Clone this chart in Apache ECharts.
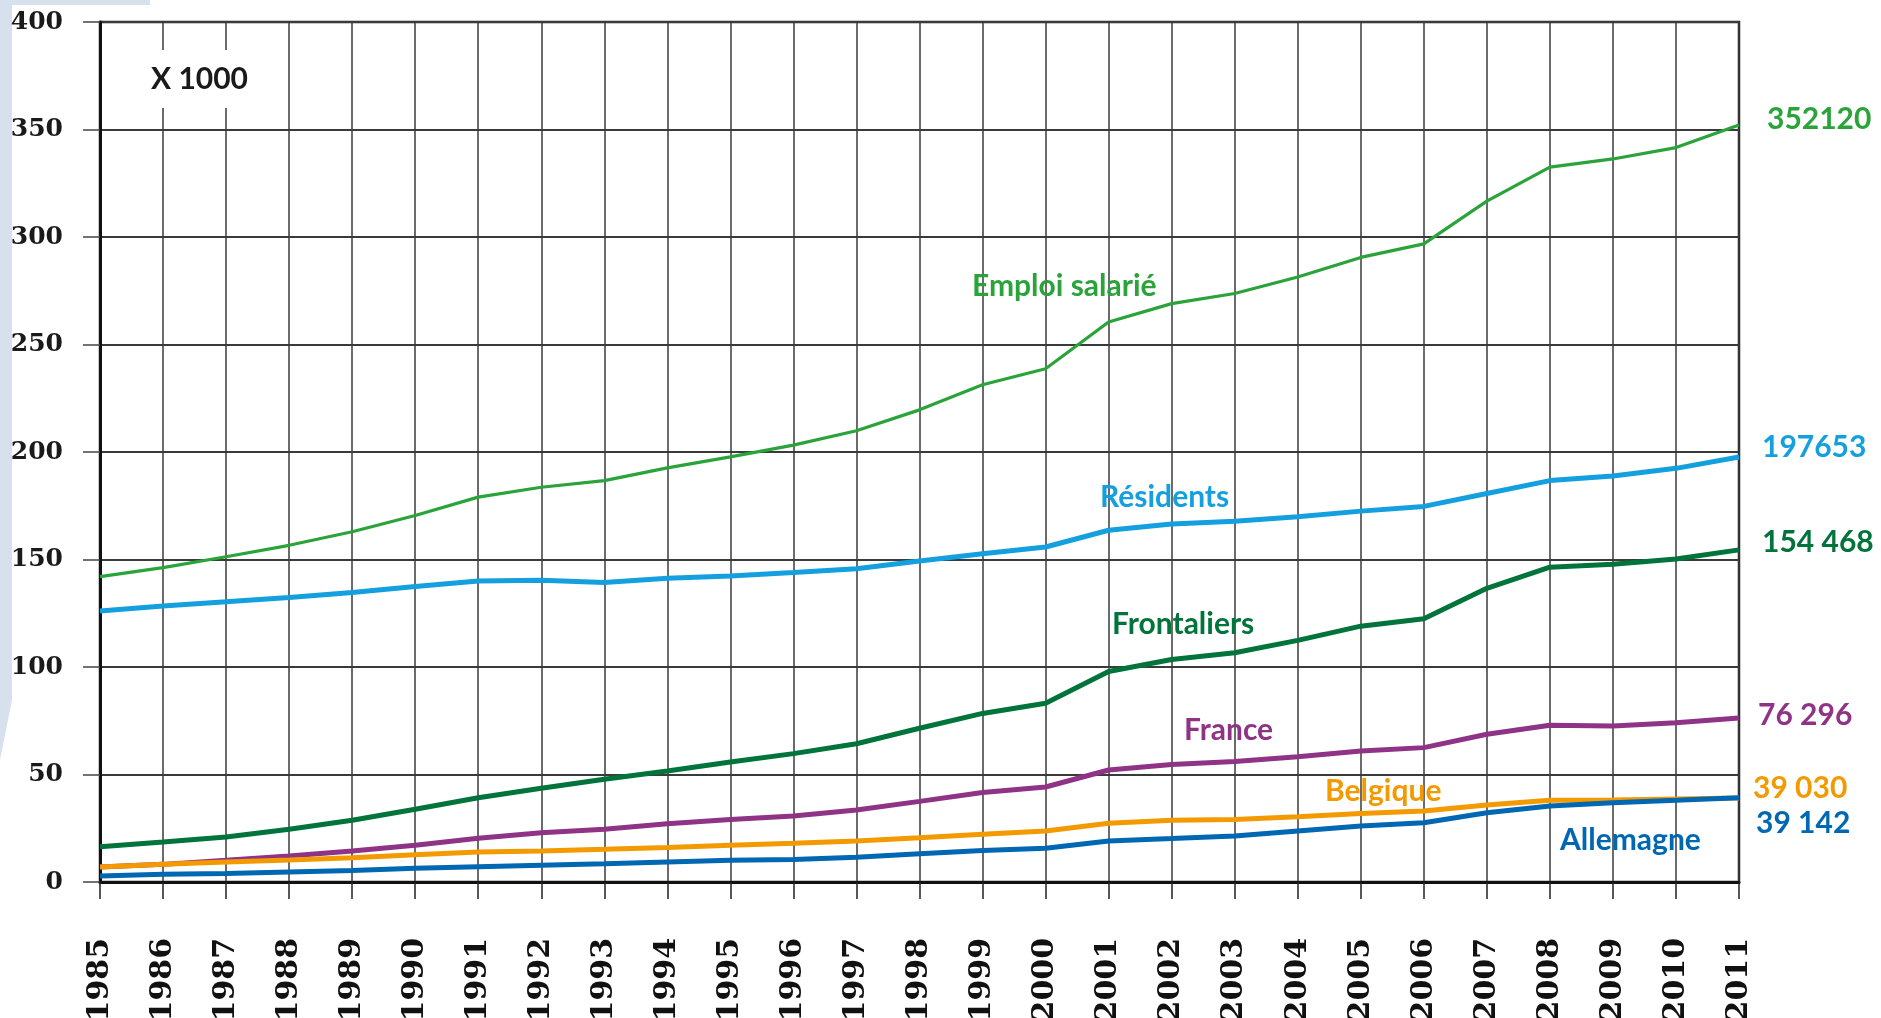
<!DOCTYPE html>
<html>
<head>
<meta charset="utf-8">
<script src="https://cdn.jsdelivr.net/npm/echarts@6/dist/echarts.min.js"></script>
<style>
html,body{margin:0;padding:0;background:#fff;}
#c{width:1881px;height:1018px;}
</style>
</head>
<body>
<div id="c"></div>
<script>
// ---- data (thousands) ----
var years = ['1985','1986','1987','1988','1989','1990','1991','1992','1993','1994','1995','1996','1997','1998','1999','2000','2001','2002','2003','2004','2005','2006','2007','2008','2009','2010','2011'];
var emploi      = [142.0,146.2,151.3,156.6,162.9,170.5,179.0,183.6,186.7,192.6,197.7,203.2,209.9,219.6,231.3,238.7,260.5,269.0,273.7,281.4,290.5,296.8,316.7,332.5,336.3,341.6,352.12];
var residents   = [126.1,128.4,130.3,132.3,134.6,137.4,140.0,140.3,139.3,141.3,142.3,143.9,145.7,149.3,152.7,155.8,163.6,166.5,167.8,169.9,172.5,174.7,180.7,186.7,188.8,192.4,197.653];
var frontaliers = [16.4,18.6,20.9,24.5,28.7,33.8,39.2,43.6,47.8,51.6,55.8,59.7,64.3,71.5,78.4,83.1,97.9,103.5,106.6,112.4,119.0,122.4,136.6,146.4,147.8,150.2,154.468];
var france      = [7.0,8.2,10.1,12.1,14.4,17.1,20.3,22.9,24.5,27.1,29.1,30.7,33.5,37.5,41.6,44.2,52.1,54.7,56.0,58.3,60.9,62.5,68.7,72.9,72.6,74.1,76.296];
var belgique    = [7.0,8.2,9.3,10.2,11.3,12.7,14.0,14.4,15.2,16.1,17.1,18.0,19.1,20.6,22.2,23.7,27.3,28.7,29.1,30.4,31.9,33.0,35.8,38.0,38.1,38.6,39.030];
var allemagne   = [2.8,3.6,4.0,4.7,5.4,6.4,7.1,7.8,8.5,9.3,10.1,10.5,11.5,13.1,14.7,15.7,19.1,20.2,21.4,23.7,26.0,27.6,32.2,35.3,36.9,38.0,39.142];
var yTicks = [0,50,100,150,200,250,300,350,400];
var endTexts = ['352120','197653','154 468','76 296','39 030','39 142'];
var seriesNames = ['Emploi salarié','Résidents','Frontaliers','France','Belgique','Allemagne'];
var unitText = 'X 1000';

var colors = ['#2aa43a','#14a0df','#00743b','#8f3387','#f39a00','#0068b3'];
var widths = [3.2,5,5,5,5,5];
var endOffsets = [[28,-6],[23,-10],[23,-8],[19,-3],[14,-10],[17,25]];
var lblFont = 'Lato, "Noto Sans", sans-serif';

var dataSets = [emploi,residents,frontaliers,france,belgique,allemagne];
var series = dataSets.map(function(d,i){
  return {
    name: seriesNames[i], type:'line', data:d, symbol:'none', smooth:false,
    lineStyle:{color:colors[i], width:widths[i]},
    itemStyle:{color:colors[i]},
    z: 3+i,
    endLabel:{show:true, formatter:endTexts[i], color:colors[i], fontFamily:lblFont,
      fontWeight:'bold', fontSize:30, distance:0, offset:endOffsets[i], align:'left', verticalAlign:'middle'}
  };
});

var chart = echarts.init(document.getElementById('c'), null, {renderer:'canvas'});
var labelPos = [[972,286],[1100,497],[1112,624],[1184,730],[1325,791],[1560,840]];
var graphics = [
  {type:'polygon', z:-10, shape:{points:[[0,0],[150,0],[150,5],[12,5],[12,700],[0,760]]}, style:{fill:'#d6e1ed'}}
];
seriesNames.forEach(function(n,i){
  graphics.push({type:'text', z:100, x:labelPos[i][0], y:labelPos[i][1],
    style:{text:n, fill:colors[i], font:'bold 30px '+lblFont, textAlign:'left', textVerticalAlign:'middle', verticalAlign:'middle'}});
});
graphics.push({type:'text', z:100, x:141, y:79,
  style:{text:unitText, fill:'#1a1a1a', font:'bold 30px '+lblFont, textAlign:'left', textVerticalAlign:'middle', verticalAlign:'middle',
  backgroundColor:'#fff', padding:[14,10,14,10]}});

chart.setOption({
  animation:false,
  backgroundColor:'#fff',
  grid:{left:100, right:142, top:22, bottom:136, show:true, borderColor:'#222', borderWidth:2.5, backgroundColor:'transparent',
        containLabel:false, outerBoundsMode:'none'},
  xAxis:{
    type:'category', data:years, boundaryGap:false,
    axisLine:{lineStyle:{color:'#111', width:3}},
    axisTick:{show:true, inside:false, length:17, interval:0, lineStyle:{color:'#222', width:1.5}},
    axisLabel:{interval:0, rotate:90, margin:56, color:'#111', fontFamily:'"DejaVu Serif", serif', fontWeight:'bold', fontSize:30, hideOverlap:false},
    splitLine:{show:true, interval:0, lineStyle:{color:'#3a3a3a', width:1.5}}
  },
  yAxis:{
    type:'value', min:0, max:400, interval:50,
    axisLine:{show:true, lineStyle:{color:'#111', width:3}},
    axisTick:{show:true, inside:false, length:17, lineStyle:{color:'#444', width:1.5}},
    axisLabel:{margin:37, color:'#1a1a1a', fontFamily:'"DejaVu Serif", serif', fontWeight:'bold', fontSize:25,
      formatter:function(v){ return yTicks.indexOf(v)>=0 ? String(v) : ''; }},
    splitLine:{show:true, lineStyle:{color:'#3a3a3a', width:1.8}}
  },
  graphic: graphics,
  series: series
});
</script>
</body>
</html>
